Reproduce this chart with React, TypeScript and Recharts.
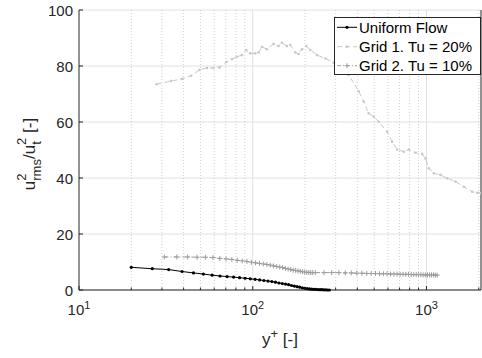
import { LineChart, Line, XAxis, YAxis, CartesianGrid, Legend } from 'recharts'

// wall-normal distance y+ and normalised streamwise variance for each inflow case
const uniformYPlus = [
  20, 26.4, 32.8, 39.2, 45.6, 52, 58.4, 64.8, 71.2, 77.6, 84, 90.4, 96.8, 103.2, 109.6, 116, 122.4,
  128.8, 135.2, 141.6, 148, 154.4, 160.8, 167.2, 173.6, 180, 186.4, 192.8, 199.2, 205.6, 212, 218.4,
  224.8, 231.2, 237.6, 244, 250.4, 256.8, 263.2, 269.6, 276,
]
const uniformU2 = [
  8.1, 7.6, 7.3, 6.6, 6.1, 5.7, 5.3, 5.0, 4.8, 4.6, 4.4, 4.2, 4.0, 3.8, 3.6, 3.4, 3.2, 3.0, 2.8, 2.5,
  2.3, 2.1, 1.9, 1.6, 1.4, 1.2, 1.0, 0.8, 0.6, 0.5, 0.4, 0.3, 0.25, 0.2, 0.15, 0.1, 0.1, 0.05, 0.05, 0,
  0,
]

const grid1YPlus = [
  28, 33.8, 39.1, 44.2, 49.4, 54.5, 59.4, 64.4, 70.4, 75.9, 81.1, 86.7, 91.7, 96.7, 103.4, 108, 113,
  120.7, 131.8, 140.8, 147.3, 157.4, 164.5, 175.8, 183.6, 192.1, 203.4, 214.5, 234.4, 261.8, 292.3,
  356.6, 407.3, 435.1, 464.8, 496.9, 531, 593.6, 634.3, 678, 740, 790.7, 864.3, 944.6, 986.7, 1031,
  1102, 1204, 1316, 1469, 1641, 1834, 1960, 2050,
]
const grid1U2 = [
  73.5, 74.6, 75.4, 76.5, 78.6, 79.3, 79.3, 79.5, 81.4, 82.4, 83.3, 83.9, 85.7, 84.5, 84.5, 84.8, 86.9,
  86.0, 87.9, 87.1, 88.3, 87.1, 87.5, 84.8, 84.3, 86.0, 87.1, 85.7, 83.9, 82.7, 81.2, 76.8, 71.0, 67.3,
  63.1, 61.9, 60.1, 56.5, 53.0, 50.2, 49.4, 50.2, 49.0, 48.6, 47.0, 43.5, 41.7, 41.1, 39.9, 38.7, 36.9,
  35.1, 34.7, 34.6,
]

const grid2YPlus = [
  31, 36.6, 42.2, 47.8, 53.4, 59, 64.6, 70.2, 75.8, 81.4, 87, 92.6, 98.2, 103.8, 109.4, 115, 120.6,
  126.2, 131.8, 137.4, 143, 148.6, 154.2, 159.8, 165.4, 171, 176.6, 182.2, 187.8, 193.4, 199, 204.6,
  210.2, 215.8, 221.4, 229, 257, 285, 313, 341, 369, 397, 425, 453, 481, 509, 537, 565, 593, 621, 649,
  677, 705, 733, 761, 789, 817, 845, 873, 901, 929, 957, 985, 1013, 1041, 1069, 1097, 1125, 1153,
]
const grid2U2 = [
  11.8, 11.8, 11.8, 11.7, 11.7, 11.6, 11.3, 11.1, 10.9, 10.6, 10.4, 10.2, 9.9, 9.7, 9.5, 9.3, 9.1, 8.9,
  8.6, 8.4, 8.2, 8.0, 7.7, 7.5, 7.3, 7.1, 7.0, 6.8, 6.7, 6.5, 6.4, 6.3, 6.3, 6.2, 6.2, 6.2, 6.2, 6.2,
  6.2, 6.1, 6.1, 6.0, 6.0, 5.9, 5.9, 5.9, 5.8, 5.8, 5.8, 5.7, 5.7, 5.7, 5.6, 5.6, 5.6, 5.6, 5.5, 5.5,
  5.5, 5.5, 5.5, 5.4, 5.4, 5.4, 5.4, 5.4, 5.4, 5.3, 5.3,
]

const xMajor = [10, 100, 1000]
const xMinor = [20, 30, 40, 50, 60, 70, 80, 90, 200, 300, 400, 500, 600, 700, 800, 900, 2000]
const xTicks = [...xMajor, ...xMinor].sort((a, b) => a - b)
const yTicks = [0, 20, 40, 60, 80, 100]

const FONT = '"Liberation Sans", Arial, Helvetica, sans-serif'
const AXIS = '#262626'
const C_UNIFORM = '#000000'
const C_GRID1 = '#c8c8c8'
const C_GRID2 = '#9c9c9c'

const toPoints = (xs: number[], ys: number[]) => xs.map((x, i) => ({ x, y: ys[i] }))
const uniformData = toPoints(uniformYPlus, uniformU2)
const grid1Data = toPoints(grid1YPlus, grid1U2)
const grid2Data = toPoints(grid2YPlus, grid2U2)

const series = [
  { name: 'Uniform Flow', color: C_UNIFORM, dash: undefined, marker: 'dot' },
  { name: 'Grid 1. Tu = 20%', color: C_GRID1, dash: '5 3', marker: 'point' },
  { name: 'Grid 2. Tu = 10%', color: C_GRID2, dash: '4 2 1 2', marker: 'plus' },
]

function Marker({ cx, cy, kind, color }: { cx: number; cy: number; kind: string; color: string }) {
  if (kind === 'plus') {
    return (
      <g stroke={color} strokeWidth={1}>
        <line x1={cx - 2.5} x2={cx + 2.5} y1={cy} y2={cy} />
        <line x1={cx} x2={cx} y1={cy - 2.5} y2={cy + 2.5} />
      </g>
    )
  }
  return <circle cx={cx} cy={cy} r={kind === 'dot' ? 1.6 : 1.3} fill={color} />
}

const dotFor = (kind: string, color: string) => (p: any) =>
  <Marker key={p.index} cx={p.cx} cy={p.cy} kind={kind} color={color} />

function BottomTick({ x, y, payload }: any) {
  const v = payload.value
  const major = xMajor.includes(v)
  return (
    <g>
      <line x1={x} x2={x} y1={y} y2={y - (major ? 4 : 2.5)} stroke={AXIS} />
      {major && (
        <text x={x} y={y + 25} textAnchor="middle" fontSize={15} fill={AXIS} fontFamily={FONT}>
          10
          <tspan dy={-6} fontSize={11}>
            {Math.round(Math.log10(v))}
          </tspan>
        </text>
      )}
    </g>
  )
}

function TopTick({ x, y, payload }: any) {
  const major = xMajor.includes(payload.value)
  return <line x1={x} x2={x} y1={y} y2={y + (major ? 4 : 2.5)} stroke={AXIS} />
}

function LeftTick({ x, y, payload }: any) {
  return (
    <g>
      <line x1={x} x2={x + 4} y1={y} y2={y} stroke={AXIS} />
      <text x={x - 6} y={y + 5.5} textAnchor="end" fontSize={15} fill={AXIS} fontFamily={FONT}>
        {payload.value}
      </text>
    </g>
  )
}

function RightTick({ x, y }: any) {
  return <line x1={x - 4} x2={x} y1={y} y2={y} stroke={AXIS} />
}

function LegendBox() {
  const rows = [10.3, 29.7, 48.7]
  return (
    <div
      style={{
        width: 147,
        height: 58,
        boxSizing: 'border-box',
        border: `1px solid ${AXIS}`,
        background: '#fff',
      }}
    >
      <svg width={145} height={56} style={{ display: 'block' }}>
        {series.map((s, i) => (
          <g key={s.name} transform={`translate(0 ${rows[i] - 1})`}>
            <line x1={2} x2={22} y1={0} y2={0} stroke={s.color} strokeDasharray={s.dash} />
            <Marker cx={12} cy={0} kind={s.marker} color={s.color} />
            <text x={24} y={5.5} fontSize={15} fontFamily={FONT} fill="#000">
              {s.name}
            </text>
          </g>
        ))}
      </svg>
    </div>
  )
}

export default function App() {
  return (
    <div style={{ position: 'absolute', left: 0, top: 0, width: 482, height: 358, background: '#fff' }}>
      <LineChart width={482} height={358} margin={{ top: 10, right: 0, bottom: 0, left: 0 }}>
        <CartesianGrid
          xAxisId="b"
          yAxisId="l"
          stroke="#e0e0e0"
          verticalValues={[100, 1000]}
        />
        <CartesianGrid
          xAxisId="b"
          yAxisId="l"
          horizontal={false}
          stroke="#cfcfcf"
          strokeDasharray="1 2"
          verticalValues={xMinor}
        />
        <XAxis
          xAxisId="b"
          type="number"
          dataKey="x"
          scale="log"
          domain={[10, 2060]}
          allowDataOverflow
          ticks={xTicks}
          interval={0}
          height={68}
          tickSize={0}
          tickMargin={0}
          tickLine={false}
          axisLine={{ stroke: AXIS }}
          tick={<BottomTick />}
        />
        <XAxis
          xAxisId="t"
          orientation="top"
          type="number"
          dataKey="x"
          scale="log"
          domain={[10, 2060]}
          allowDataOverflow
          ticks={xTicks}
          interval={0}
          height={0}
          tickSize={0}
          tickMargin={0}
          tickLine={false}
          axisLine={{ stroke: AXIS }}
          tick={<TopTick />}
        />
        <YAxis
          yAxisId="l"
          type="number"
          domain={[0, 100]}
          ticks={yTicks}
          interval={0}
          width={79}
          tickSize={0}
          tickMargin={0}
          tickLine={false}
          axisLine={{ stroke: AXIS }}
          tick={<LeftTick />}
        />
        <YAxis
          yAxisId="r"
          orientation="right"
          type="number"
          domain={[0, 100]}
          ticks={yTicks}
          interval={0}
          width={1}
          tickSize={0}
          tickMargin={0}
          tickLine={false}
          axisLine={{ stroke: AXIS }}
          tick={<RightTick />}
        />
        <Line
          xAxisId="b"
          yAxisId="l"
          data={grid1Data}
          dataKey="y"
          name={series[1].name}
          stroke={C_GRID1}
          strokeWidth={1}
          strokeDasharray="5 3"
          dot={dotFor('point', C_GRID1)}
          isAnimationActive={false}
        />
        <Line
          xAxisId="b"
          yAxisId="l"
          data={grid2Data}
          dataKey="y"
          name={series[2].name}
          stroke={C_GRID2}
          strokeWidth={1}
          strokeDasharray="4 2 1 2"
          dot={dotFor('plus', C_GRID2)}
          isAnimationActive={false}
        />
        <Line
          xAxisId="b"
          yAxisId="l"
          data={uniformData}
          dataKey="y"
          name={series[0].name}
          stroke={C_UNIFORM}
          strokeWidth={1}
          dot={dotFor('dot', C_UNIFORM)}
          isAnimationActive={false}
        />
        <Legend
          layout="vertical"
          align="center"
          verticalAlign="middle"
          wrapperStyle={{ position: 'absolute', left: 334, top: 17, width: 147, height: 58 }}
          content={() => <LegendBox />}
        />
      </LineChart>
      <svg
        width={482}
        height={358}
        style={{ position: 'absolute', left: 0, top: 0, pointerEvents: 'none' }}
      >
        <text
          transform="translate(35 154) rotate(-90)"
          textAnchor="middle"
          fontSize={17}
          fill={AXIS}
          fontFamily={FONT}
          style={{ whiteSpace: 'pre' }}
        >
          u
          <tspan fontSize={13} dy={-9}>2</tspan>
          <tspan fontSize={13} dx={-7.2} dy={15}>rms</tspan>
          <tspan fontSize={17} dy={-6}>/u</tspan>
          <tspan fontSize={13} dy={-9}>2</tspan>
          <tspan fontSize={13} dx={-7.2} dy={15}>t</tspan>
          <tspan fontSize={17} dx={3.6} dy={-6}> [-]</tspan>
        </text>
        <text
          x={280}
          y={345}
          textAnchor="middle"
          fontSize={17}
          fill={AXIS}
          fontFamily={FONT}
          style={{ whiteSpace: 'pre' }}
        >
          y
          <tspan fontSize={13} dy={-7}>+</tspan>
          <tspan fontSize={17} dy={7}> [-]</tspan>
        </text>
      </svg>
    </div>
  )
}
